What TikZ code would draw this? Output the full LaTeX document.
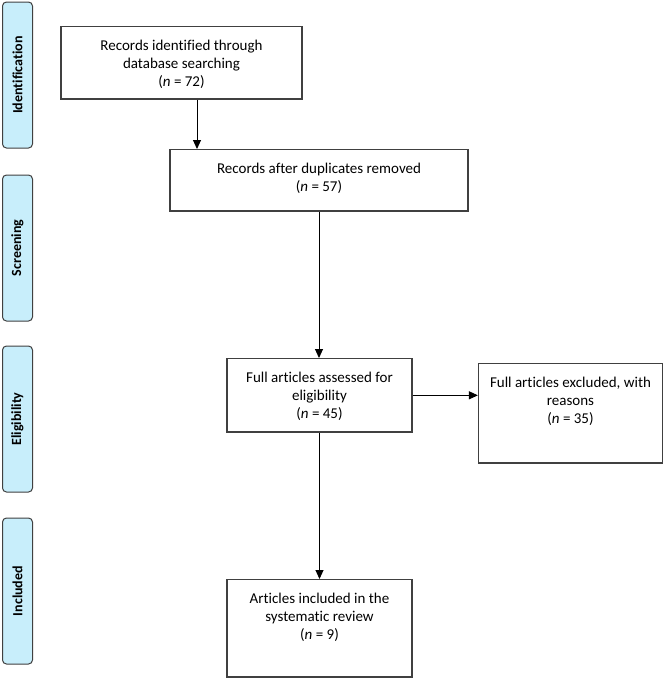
\documentclass[tikz,border=0pt]{standalone}
\usepackage{fontspec}
\setmainfont{Carlito}[Ligatures=NoCommon]
\usepackage{xcolor}
\usetikzlibrary{arrows.meta,positioning}

\definecolor{boxline}{HTML}{404040}
\definecolor{phasefill}{HTML}{C8EEFB}

\begin{document}
\begin{tikzpicture}[x=1pt, y=-1pt,
    every node/.style={font=\fontsize{15}{18}\selectfont},
    stagebox/.style={draw=boxline, line width=1.2pt, align=center, anchor=north,
      inner ysep=13pt, text depth=0pt},
    phase/.style={draw=boxline, line width=1pt, fill=phasefill, rounded corners=4pt,
      rotate=90, minimum width=146pt, minimum height=30pt, inner sep=0pt,
      font=\fontsize{14}{17}\selectfont\bfseries},
    flow/.style={line width=1pt, -{Triangle[length=9pt,width=8pt]}}]
  \useasboundingbox (0,0) rectangle (666,681);

  % phases down the left side
  \node[phase] (ident) at (17.5,75)  {Identification};
  \node[phase] (screen) at (17.5,248) {Screening};
  \node[phase] (elig) at (17.5,419) {Eligibility};
  \node[phase] (incl) at (17.5,591) {Included};

  % flow boxes
  \node[stagebox, minimum width=241pt, text depth=0pt] (recs) at (181.5,26)
    {Records identified through\\database searching\\(\textit{n} = 72)};
  \node[stagebox, minimum width=298pt, text depth=7pt] (dups) at (319,149)
    {Records after duplicates removed\\(\textit{n} = 57)};
  \node[stagebox, minimum width=185pt, text depth=1pt] (full) at (319.5,358)
    {Full articles assessed for\\eligibility\\(\textit{n} = 45)};
  \node[stagebox, minimum width=184pt, text depth=27pt] (excl) at (570.5,363)
    {Full articles excluded, with\\reasons\\(\textit{n} = 35)};
  \node[stagebox, minimum width=185pt, text depth=25pt] (review) at (319.5,579)
    {Articles included in the\\systematic review\\(\textit{n} = 9)};

  \draw[flow] ([xshift=15.5pt]recs.south) -- ([xshift=15.5pt]recs.south |- dups.north);
  \draw[flow] (dups.south) -- (dups.south |- full.north);
  \draw[flow] (full.east) -- (excl.west |- full.east);
  \draw[flow] (full.south) -- (review.north);
\end{tikzpicture}
\end{document}
